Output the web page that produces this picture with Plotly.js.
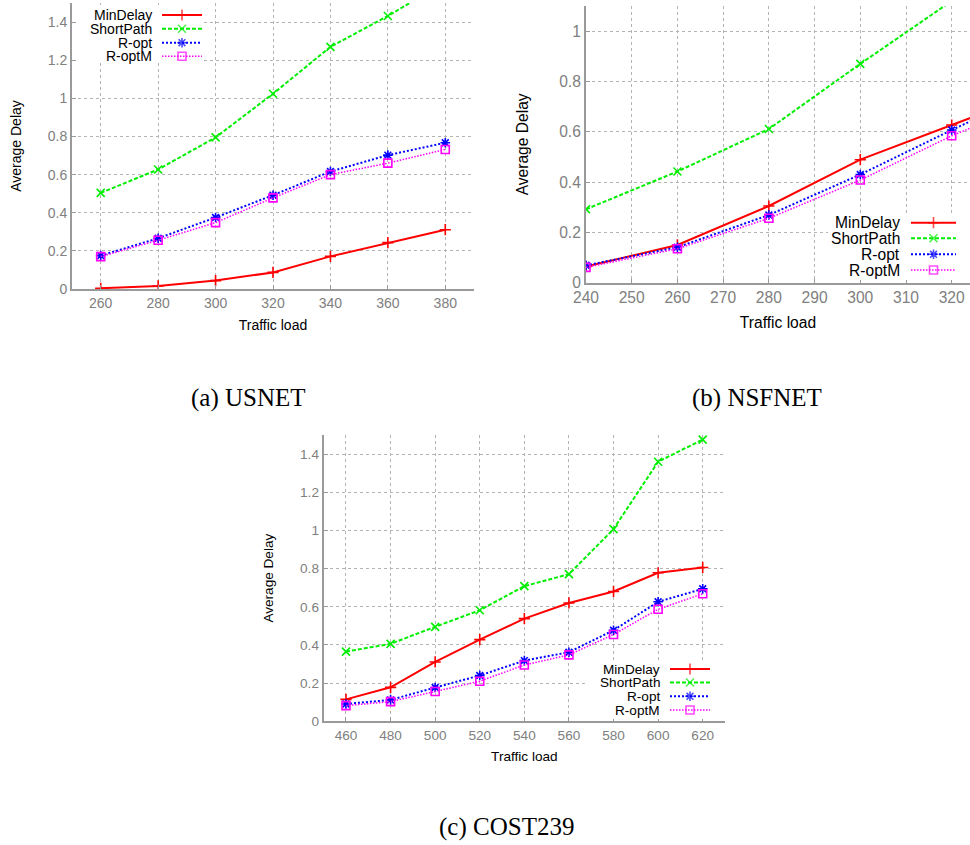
<!DOCTYPE html>
<html><head><meta charset="utf-8">
<script src="https://cdn.plot.ly/plotly-3.0.1.min.js"></script>
<style>html,body{margin:0;padding:0;background:#fff}#chart{width:970px;height:845px}</style>
</head><body><div id="chart"></div><script>
// ---- data ----
const seriesNames = ['MinDelay', 'ShortPath', 'R-opt', 'R-optM'];
const panelCaptions = ['(a) USNET', '(b) NSFNET', '(c) COST239'];
const xTitle = 'Traffic load';
const yTitle = 'Average Delay';

const usnetLoad = [260, 280, 300, 320, 340, 360, 380];
const usnetMinDelay = [0.004, 0.016, 0.044, 0.087, 0.171, 0.243, 0.311];
const usnetShortPath = [0.504, 0.627, 0.795, 1.024, 1.270, 1.432, 1.61];
const usnetRopt = [0.175, 0.266, 0.375, 0.492, 0.616, 0.702, 0.767];
const usnetRoptM = [0.170, 0.256, 0.348, 0.478, 0.600, 0.660, 0.732];

const nsfnetLoad = [240, 260, 280, 300, 320, 340];
const nsfnetMinDelay = [0.064, 0.150, 0.305, 0.489, 0.627, 0.762];
const nsfnetShortPath = [0.292, 0.442, 0.611, 0.870, 1.12, 1.36];
const nsfnetRopt = [0.069, 0.141, 0.269, 0.430, 0.607, 0.777];
const nsfnetRoptM = [0.061, 0.135, 0.256, 0.408, 0.584, 0.734];

const costLoad = [460, 480, 500, 520, 540, 560, 580, 600, 620];
const costMinDelay = [0.115, 0.178, 0.311, 0.428, 0.538, 0.620, 0.680, 0.778, 0.806];
const costShortPath = [0.365, 0.406, 0.495, 0.582, 0.708, 0.771, 1.007, 1.360, 1.476];
const costRopt = [0.091, 0.112, 0.177, 0.240, 0.318, 0.362, 0.477, 0.626, 0.694];
const costRoptM = [0.082, 0.103, 0.156, 0.210, 0.295, 0.348, 0.455, 0.587, 0.668];

// ---- styles ----
const W = 970, H = 845;
const styles = [
  {color: '#ff0000', dash: 'solid', width: 2, symbol: 'cross-thin-open', size: 8},
  {color: '#00ee00', dash: '4px,2px', width: 2, symbol: 'x-thin-open', size: 8},
  {color: '#0000ff', dash: '2px,2px', width: 2, symbol: 'asterisk-open', size: 8},
  {color: '#ff00ff', dash: '1.5px,1.5px', width: 1.5, symbol: 'square-open', size: 8}
];

const panels = [
  {xa: 'x', ya: 'y', load: usnetLoad, vals: [usnetMinDelay, usnetShortPath, usnetRopt, usnetRoptM],
   dom: [72, 474, 3, 289], xr: [250, 390], yr: [0, 1.5], dx: 20, fs: 14, xso: 10, yso: 23,
   leg: {tx: 154, x0: 162, x1: 202, rows: [15, 28.7, 42.7, 56.3], box: [77, 204, 5, 63]},
   cap: [248, 398]},
  {xa: 'x2', ya: 'y2', load: nsfnetLoad, vals: [nsfnetMinDelay, nsfnetShortPath, nsfnetRopt, nsfnetRoptM],
   dom: [586, 970, 6, 282.7], xr: [240, 324], yr: [0, 1.1], dx: 10, fs: 15.6, xso: 12, yso: 27,
   leg: {tx: 902, x0: 911, x1: 956, rows: [222.7, 238.3, 254.3, 270], box: [828, 970, 214, 280]},
   cap: [756.5, 398]},
  {xa: 'x3', ya: 'y3', load: costLoad, vals: [costMinDelay, costShortPath, costRopt, costRoptM],
   dom: [323.7, 725, 435, 721.3], xr: [450, 630], yr: [0, 1.5], dx: 20, fs: 13.6, xso: 10, yso: 23,
   leg: {tx: 662, x0: 670, x1: 710, rows: [669, 682.5, 696.3, 710], box: [588, 725, 660, 719]},
   cap: [506.5, 827]}
];

const traces = [];
const layout = {
  width: W, height: H, margin: {l: 0, r: 0, t: 0, b: 0},
  paper_bgcolor: '#ffffff', plot_bgcolor: 'rgba(0,0,0,0)',
  showlegend: false, annotations: [], shapes: [],
  font: {family: 'Liberation Sans, Arial, sans-serif', color: '#000'}
};

const axisBase = {
  showline: true, linecolor: '#9a9a9a', linewidth: 2, mirror: false,
  showgrid: true, gridcolor: '#b4b4b4', griddash: 'dot', gridwidth: 1,
  zeroline: false, ticks: 'inside', ticklen: 4, tickcolor: '#9a9a9a', tickwidth: 1,
  fixedrange: true
};

panels.forEach((p, i) => {
  const xk = 'xaxis' + (i ? i + 1 : ''), yk = 'yaxis' + (i ? i + 1 : '');
  layout[xk] = Object.assign({}, axisBase, {
    domain: [p.dom[0] / W, p.dom[1] / W], range: p.xr, dtick: p.dx, tick0: 0,
    anchor: p.ya, tickfont: {size: p.fs, color: '#808080'},
    title: {text: xTitle, font: {size: p.fs, color: '#000'}, standoff: p.xso}
  });
  layout[yk] = Object.assign({}, axisBase, {
    domain: [1 - p.dom[3] / H, 1 - p.dom[2] / H], range: p.yr, dtick: 0.2, tick0: 0,
    anchor: p.xa, tickfont: {size: p.fs, color: '#808080'},
    title: {text: yTitle, font: {size: p.fs, color: '#000'}, standoff: p.yso}
  });
  p.vals.forEach((v, k) => {
    const s = styles[k];
    traces.push({
      type: 'scatter', mode: 'lines+markers', x: p.load, y: v, xaxis: p.xa, yaxis: p.ya,
      name: seriesNames[k],
      line: {color: s.color, width: s.width, dash: s.dash},
      marker: {symbol: s.symbol, size: s.size, color: s.color, line: {color: s.color, width: 1.6}}
    });
  });
  // legend (gnuplot style: text left, sample right)
  const L = p.leg;
  layout.shapes.push({type: 'rect', xref: 'x4', yref: 'y4', x0: L.box[0], x1: L.box[1], y0: L.box[2], y1: L.box[3],
    fillcolor: '#ffffff', line: {width: 0}, layer: 'between'});
  seriesNames.forEach((nm, k) => {
    const s = styles[k];
    const xm = (L.x0 + L.x1) / 2;
    traces.push({
      type: 'scatter', mode: 'lines+markers', x: [L.x0, xm, L.x1], y: [L.rows[k], L.rows[k], L.rows[k]],
      xaxis: 'x4', yaxis: 'y4', hoverinfo: 'skip', cliponaxis: false,
      line: {color: s.color, width: s.width, dash: s.dash},
      marker: {symbol: s.symbol, size: [0, s.size, 0], color: s.color, line: {color: s.color, width: 1.6}}
    });
    layout.annotations.push({xref: 'x4', yref: 'y4', x: L.tx, y: L.rows[k], text: nm, showarrow: false,
      xanchor: 'right', yanchor: 'middle', font: {size: p.fs, color: '#000'}});
  });
  layout.annotations.push({xref: 'x4', yref: 'y4', x: p.cap[0], y: p.cap[1], text: panelCaptions[i], showarrow: false,
    xanchor: 'center', yanchor: 'middle', font: {family: 'Liberation Serif, Times New Roman, serif', size: 25, color: '#000'}});
});

layout.xaxis4 = {domain: [0, 1], range: [0, W], visible: false, fixedrange: true, anchor: 'y4'};
layout.yaxis4 = {domain: [0, 1], range: [H, 0], visible: false, fixedrange: true, anchor: 'x4'};

Plotly.newPlot('chart', traces, layout, {staticPlot: true, displayModeBar: false});
</script></body></html>
